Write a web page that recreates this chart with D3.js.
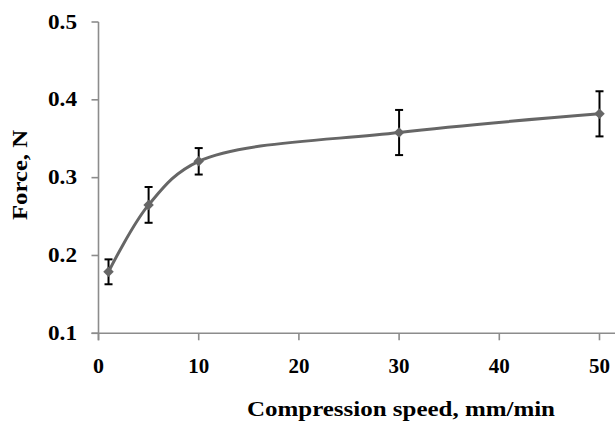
<!DOCTYPE html>
<html>
<meta charset="utf-8">
<title>force vs speed</title>
<style>
html,body{ margin:0; background:#fff; }
svg { display:block; background:#fff; }
text { font-family:"Liberation Serif","Times New Roman",serif; font-weight:bold; fill:#000; }
</style>
<script src="https://cdn.jsdelivr.net/npm/d3@7"></script>
<body>
<script>

// data
var speed = [1, 5, 10, 30, 50];
var force = [0.179, 0.265, 0.321, 0.358, 0.382];
var errs  = [0.016, 0.023, 0.017, 0.029, 0.029];
var xTicks = [0, 10, 20, 30, 40, 50];
var yTicks = [0.1, 0.2, 0.3, 0.4, 0.5];

var width = 615, height = 421;

var svg = d3.select("body").append("svg")
    .attr("width", width)
    .attr("height", height);

var x = d3.scaleLinear().domain([0, 50]).range([98.5, 599.5]);
var y = d3.scaleLinear().domain([0.1, 0.5]).range([333.3, 22]);

var axisColor = "#8c8c8c";

// y axis
var gy = svg.append("g");
gy.append("line")
  .attr("x1", x(0)).attr("x2", x(0))
  .attr("y1", y(0.5)).attr("y2", y(0.1) + 7)
  .attr("stroke", axisColor).attr("stroke-width", 1.6);
gy.selectAll("line.tick")
  .data(yTicks).enter().append("line")
  .attr("class", "tick")
  .attr("x1", x(0) - 7).attr("x2", x(0))
  .attr("y1", function(d){ return y(d); })
  .attr("y2", function(d){ return y(d); })
  .attr("stroke", axisColor).attr("stroke-width", 1.6);
gy.selectAll("text")
  .data(yTicks).enter().append("text")
  .attr("x", 77)
  .attr("y", function(d){ return y(d) + 6.5; })
  .attr("text-anchor", "end")
  .attr("font-size", 20)
  .attr("textLength", 29)
  .attr("lengthAdjust", "spacingAndGlyphs")
  .text(function(d){ return d3.format(".1f")(d); });

// x axis
var gx = svg.append("g");
gx.append("line")
  .attr("x1", x(0) - 7).attr("x2", 615)
  .attr("y1", y(0.1)).attr("y2", y(0.1))
  .attr("stroke", axisColor).attr("stroke-width", 1.6);
gx.selectAll("line.tick")
  .data(xTicks).enter().append("line")
  .attr("class", "tick")
  .attr("x1", function(d){ return x(d); })
  .attr("x2", function(d){ return x(d); })
  .attr("y1", y(0.1)).attr("y2", y(0.1) + 7)
  .attr("stroke", axisColor).attr("stroke-width", 1.6);
gx.selectAll("text")
  .data(xTicks).enter().append("text")
  .attr("x", function(d){ return x(d); })
  .attr("y", 373)
  .attr("text-anchor", "middle")
  .attr("font-size", 20)
  .attr("textLength", function(d){ return d < 10 ? 11 : 21; })
  .attr("lengthAdjust", "spacingAndGlyphs")
  .text(function(d){ return d; });

// axis titles
svg.append("text")
  .attr("x", 401).attr("y", 416)
  .attr("text-anchor", "middle")
  .attr("font-size", 20)
  .attr("textLength", 308)
  .attr("lengthAdjust", "spacingAndGlyphs")
  .text("Compression speed, mm/min");

svg.append("text")
  .attr("transform", "translate(27,175) rotate(-90)")
  .attr("text-anchor", "middle")
  .attr("font-size", 21)
  .attr("textLength", 90)
  .attr("lengthAdjust", "spacingAndGlyphs")
  .text("Force, N");

var data = speed.map(function(s, i){ return {s: s, f: force[i], e: errs[i]}; });

// smoothed line
var line = d3.line()
  .x(function(d){ return x(d.s); })
  .y(function(d){ return y(d.f); })
  .curve(d3.curveCatmullRom.alpha(0.5));

svg.append("path")
  .datum(data)
  .attr("d", line)
  .attr("fill", "none")
  .attr("stroke", "#666")
  .attr("stroke-width", 3);

// error bars
var eb = svg.append("g").attr("stroke", "#000").attr("stroke-width", 2);
data.forEach(function(d){
  var cx = x(d.s);
  eb.append("line").attr("x1", cx).attr("x2", cx)
    .attr("y1", y(d.f + d.e)).attr("y2", y(d.f - d.e));
  eb.append("line").attr("x1", cx - 4).attr("x2", cx + 4)
    .attr("y1", y(d.f + d.e)).attr("y2", y(d.f + d.e));
  eb.append("line").attr("x1", cx - 4).attr("x2", cx + 4)
    .attr("y1", y(d.f - d.e)).attr("y2", y(d.f - d.e));
});

// diamond markers
svg.selectAll("path.marker")
  .data(data).enter().append("path")
  .attr("class", "marker")
  .attr("d", d3.symbol().type(d3.symbolDiamond2).size(70))
  .attr("transform", function(d){ return "translate(" + x(d.s) + "," + y(d.f) + ")"; })
  .attr("fill", "#666");

</script>
</body>
</html>
